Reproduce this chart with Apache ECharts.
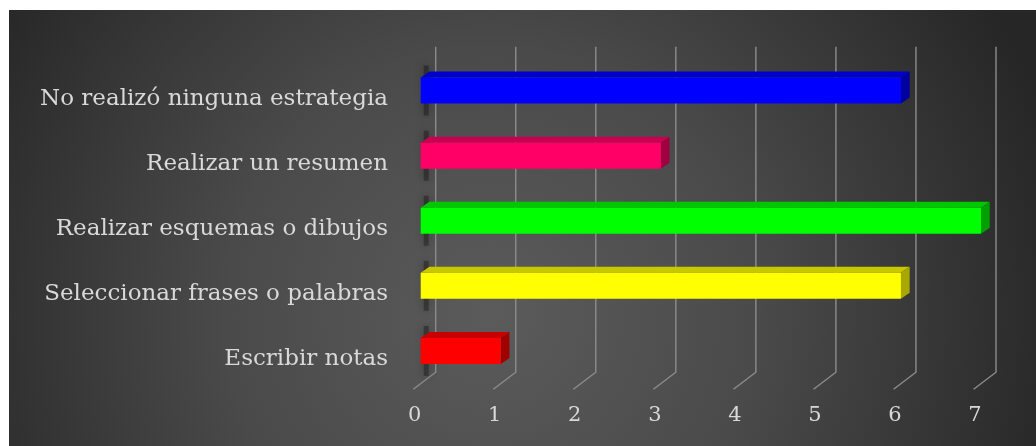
<!DOCTYPE html>
<html>
<head>
<meta charset="utf-8">
<script src="https://cdn.jsdelivr.net/npm/echarts@6/dist/echarts.min.js"></script>
<style>
html,body{margin:0;padding:0;background:#fff;}
#chart{width:1036px;height:446px;}
</style>
</head>
<body>
<div id="chart"></div>
<script>
// Data (bottom to top as drawn by the category axis)
const categories = [
  "Escribir notas",
  "Seleccionar frases o palabras",
  "Realizar esquemas o dibujos",
  "Realizar un resumen",
  "No realizó ninguna estrategia"
];
const values = [1, 6, 7, 3, 6];
const xTicks = [0, 1, 2, 3, 4, 5, 6, 7];

// Styles
const faceColors = ["#ff0000", "#ffff00", "#00ff00", "#ff0066", "#0000ff"];
const topColors  = ["#c80000", "#c8c800", "#00c800", "#c80050", "#0000c8"];
const sideColors = ["#a00000", "#a8a800", "#00a000", "#a00040", "#0000a0"];

const DX = 8.7, DY = -6;          // bar depth offset
const BACK = [15, -11.3];         // back wall offset from bar front plane
const FLOOR = [-7.4, 5.8];        // floor front edge offset from bar front plane
const FONT = "'DejaVu Serif', 'Liberation Serif', serif";

const chart = echarts.init(document.getElementById('chart'), null, {renderer: 'canvas'});

function renderGrid(params, api) {
  const cs = params.coordSys;
  const x = api.coord([api.value(0), 0])[0];
  const bottom = cs.y + cs.height;
  const top = cs.y;
  return {
    type: 'polyline',
    shape: {points: [
      [x + BACK[0], top + BACK[1]],
      [x + BACK[0], bottom + BACK[1]],
      [x + FLOOR[0], bottom + FLOOR[1]]
    ]},
    style: {stroke: '#8c8c8c', lineWidth: 1.4, fill: null},
    silent: true
  };
}

function renderBar(params, api) {
  const v = api.value(0), c = api.value(1);
  const p0 = api.coord([0, c]);
  const p1 = api.coord([v, c]);
  const bw = api.size([0, 1])[1] * 0.4;
  const x0 = p0[0], x1 = p1[0];
  const yt = p0[1] - bw / 2, yb = p0[1] + bw / 2;
  const i = params.dataIndex;
  return {
    type: 'group',
    children: [
      {
        type: 'rect',
        shape: {x: x0 + 3, y: yt - 12, width: 5, height: bw + 24},
        style: {fill: 'rgba(0,0,0,0.3)', shadowBlur: 10, shadowColor: 'rgba(0,0,0,1)'},
        silent: true
      },
      {
        type: 'polygon',
        shape: {points: [[x0, yt], [x1, yt], [x1 + DX, yt + DY], [x0 + DX, yt + DY]]},
        style: {fill: topColors[i]}
      },
      {
        type: 'polygon',
        shape: {points: [[x1, yt], [x1 + DX, yt + DY], [x1 + DX, yb + DY], [x1, yb]]},
        style: {fill: sideColors[i]}
      },
      {
        type: 'rect',
        shape: {x: x0, y: yt, width: x1 - x0, height: bw},
        style: {fill: faceColors[i]}
      }
    ]
  };
}

chart.setOption({
  backgroundColor: '#ffffff',
  animation: false,
  graphic: [{
    type: 'rect',
    z: -10,
    shape: {x: 9, y: 10, width: 1027, height: 436},
    style: {
      fill: {
        type: 'radial', x: 0.47, y: 0.7, r: 1.35,
        colorStops: [
          {offset: 0, color: '#5b5b5b'},
          {offset: 0.45, color: '#4a4a4a'},
          {offset: 1, color: '#262626'}
        ]
      }
    },
    silent: true
  }],
  grid: {left: 420.7, top: 58, width: 560.3, height: 325.5, containLabel: false},
  xAxis: {
    type: 'value', min: 0, max: 7, interval: 1,
    axisLine: {show: false}, axisTick: {show: false}, splitLine: {show: false},
    axisLabel: {
      color: '#d9d9d9', fontSize: 21, fontFamily: FONT, margin: 22,
      padding: [0, 12, 0, 0]
    }
  },
  yAxis: {
    type: 'category', data: categories,
    axisLine: {show: false}, axisTick: {show: false}, splitLine: {show: false},
    axisLabel: {
      margin: 32.7,
      formatter: v => '{a|' + v + '}',
      rich: {
        a: {color: '#d9d9d9', fontSize: 23, fontFamily: FONT, padding: [16, 0, 0, 0]}
      }
    }
  },
  series: [
    {
      type: 'custom', name: 'grid', renderItem: renderGrid,
      data: xTicks.map(t => [t, 0]), encode: {x: 0, y: 1}, z: 1, silent: true
    },
    {
      type: 'custom', name: 'bars', renderItem: renderBar,
      data: values.map((v, i) => [v, i]), encode: {x: 0, y: 1}, z: 2
    }
  ]
});
</script>
</body>
</html>
